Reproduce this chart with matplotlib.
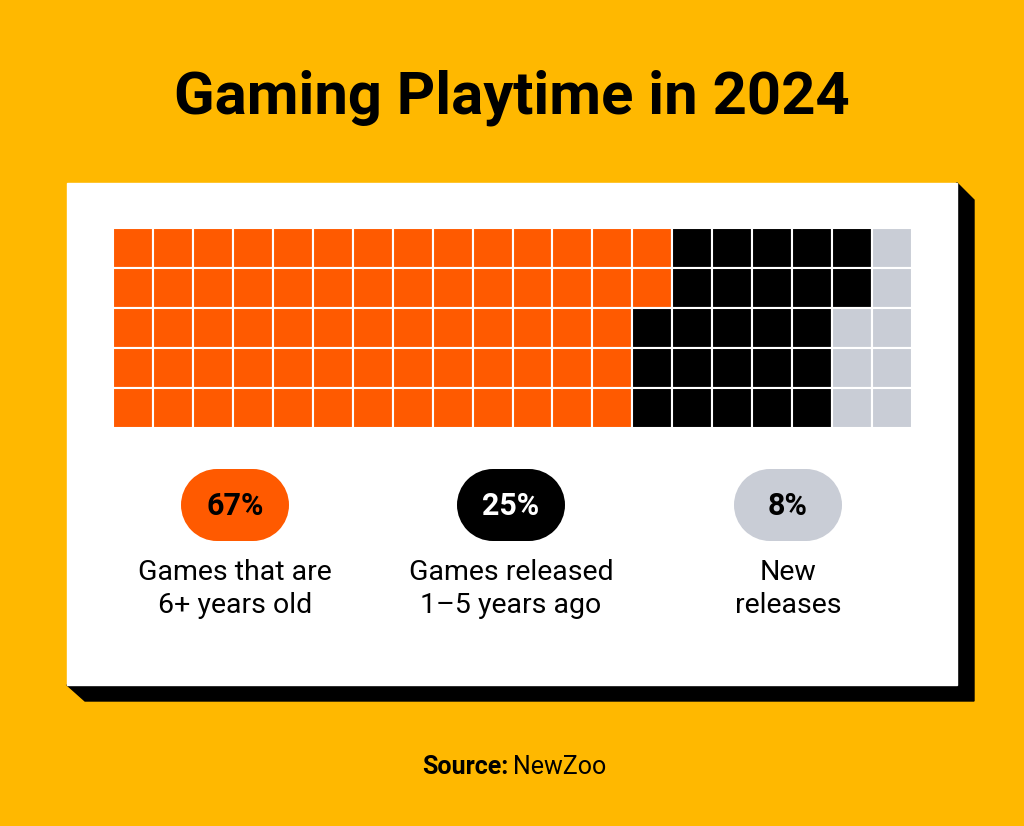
import matplotlib
matplotlib.use("Agg")
import matplotlib.pyplot as plt
from matplotlib.patches import Rectangle, Polygon, Ellipse

title = "Gaming Playtime in 2024"
categories = ["Games that are\n6+ years old", "Games released\n1\u20135 years ago", "New\nreleases"]
percents = [67, 25, 8]
colors = ["#FF5A00", "#000000", "#C9CDD6"]
text_colors = ["#000000", "#FFFFFF", "#000000"]
rows, cols = 5, 20

fig = plt.figure(figsize=(10.24, 8.26), dpi=100)
fig.patch.set_facecolor("#FFB800")
ax = fig.add_axes([0, 0, 1, 1])
ax.set_xlim(0, 1024); ax.set_ylim(826, 0); ax.axis("off")

ax.text(512, 98, title, ha="center", va="center", fontsize=43, fontweight="bold",
        family="Roboto", color="#000")

ax.add_patch(Polygon([(957, 183), (974, 200), (974, 701), (85, 701), (67, 685)],
                     closed=True, color="#000"))
ax.add_patch(Rectangle((67, 183), 890, 502, color="#FFFFFF"))

cells = []
for c, p in zip(colors, percents):
    cells += [c] * p
x0, y0, size = 113, 228, 39.95
for i, c in enumerate(cells):
    col, row = divmod(i, rows)
    ax.add_patch(Rectangle((x0 + col * size, y0 + row * size), size, size,
                           facecolor=c, edgecolor="#FFFFFF", linewidth=1.5))

centers = [235, 511, 788]
pw, ph, py = 108, 72, 505
for cx, p, c, tc, lab in zip(centers, percents, colors, text_colors, categories):
    r = ph / 2
    ax.add_patch(Rectangle((cx - pw / 2 + r, py - r), pw - 2 * r, ph, facecolor=c, edgecolor="none"))
    ax.add_patch(Ellipse((cx - pw / 2 + r, py), ph, ph, facecolor=c, edgecolor="none"))
    ax.add_patch(Ellipse((cx + pw / 2 - r, py), ph, ph, facecolor=c, edgecolor="none"))
    ax.text(cx, py + 1, f"{p}%", ha="center", va="center", fontsize=22,
            fontweight="bold", family="Roboto", color=tc)
    ax.text(cx, 589, lab, ha="center", va="center", fontsize=20.5, family="Roboto",
            color="#000", linespacing=1.25)

ax.text(508, 767, "Source:", ha="right", va="center", fontsize=18, fontweight="bold",
        family="Roboto", color="#000")
ax.text(513, 767, "NewZoo", ha="left", va="center", fontsize=18,
        family="Roboto", color="#000")
fig.savefig("out.png", dpi=100, facecolor=fig.get_facecolor())
